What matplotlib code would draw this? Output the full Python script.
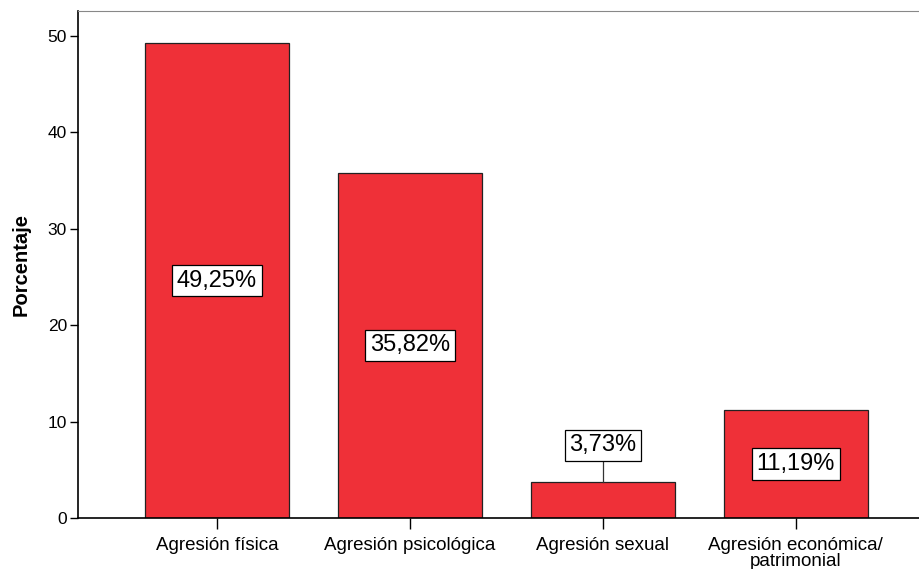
import matplotlib
matplotlib.use("Agg")
import matplotlib.pyplot as plt

categories = ["Agresión física", "Agresión psicológica", "Agresión sexual",
              "Agresión económica/\npatrimonial"]
values = [49.25, 35.82, 3.73, 11.19]
labels = ["49,25%", "35,82%", "3,73%", "11,19%"]

plt.rcParams['font.family'] = ['Liberation Sans', 'DejaVu Sans']

fig = plt.figure(figsize=(9.2, 5.69), dpi=100)
ax = fig.add_axes([0.0848, 0.0896, 0.9152, 0.8911])

x = range(len(categories))
ax.bar(x, values, width=0.75, color="#EF3038", edgecolor="#222222", linewidth=0.9, zorder=2)

box = dict(boxstyle="square,pad=0.2", facecolor="white", edgecolor="black", linewidth=0.9)
for i, v in enumerate(values):
    if v > 8:
        ax.text(i, v / 2, labels[i], ha="center", va="center", fontsize=17, bbox=box, zorder=4)
    else:
        ax.plot([i, i], [v, v + 2.1], color="#333333", linewidth=0.9, zorder=3)
        ax.text(i, v + 3.8, labels[i], ha="center", va="center", fontsize=17, bbox=box, zorder=4)

ax.set_xlim(-0.72, 3.643)
ax.set_ylim(0, 52.6)
ax.set_yticks([0, 10, 20, 30, 40, 50])
ax.set_xticks(list(x))
ax.set_xticklabels(categories, fontsize=13.5, linespacing=0.85)
ax.tick_params(axis="y", labelsize=12.5, length=6, width=1, pad=2)
ax.tick_params(axis="x", length=8, width=1, pad=6)
ax.set_ylabel("Porcentaje", fontsize=14.5, fontweight="bold", labelpad=12)

ax.spines["right"].set_visible(False)
ax.spines["top"].set_color("#888888")
ax.spines["left"].set_linewidth(1.2)
ax.spines["bottom"].set_linewidth(1.2)

fig.savefig("out.png", dpi=100)
